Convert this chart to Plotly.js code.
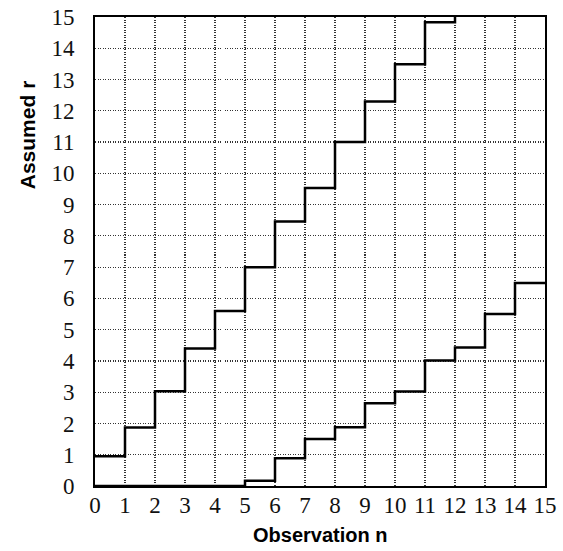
<!DOCTYPE html>
<html>
<head>
<meta charset="utf-8">
<script src="https://cdn.plot.ly/plotly-3.0.1.min.js"></script>
<style>html,body{margin:0;padding:0;background:#fff;}#chart{width:563px;height:551px;}</style>
</head>
<body>
<div id="chart"></div>
<script>
// Upper step curve: value of r on each interval [n, n+1)
const upperN = [0, 1, 2, 3, 4, 5, 6, 7, 8, 9, 10, 11, 12];
const upperR = [0.95, 1.87, 3.03, 4.4, 5.6, 7.0, 8.46, 9.53, 11.0, 12.3, 13.49, 14.83, 15];
// Lower step curve
const lowerN = [0, 5, 6, 7, 8, 9, 10, 11, 12, 13, 14, 15];
const lowerR = [0, 0.17, 0.89, 1.5, 1.88, 2.65, 3.02, 4.01, 4.43, 5.5, 6.49, 6.49];
const tickVals = [0,1,2,3,4,5,6,7,8,9,10,11,12,13,14,15];
const tickText = tickVals.map(String);

const traces = [
  {x: upperN, y: upperR, mode: 'lines', line: {shape: 'hv', color: '#000', width: 2.5}, hoverinfo: 'skip'},
  {x: lowerN, y: lowerR, mode: 'lines', line: {shape: 'hv', color: '#000', width: 2.5}, hoverinfo: 'skip'}
];

function makeAxis(standoff) {
  return {
    range: [0, 15],
    tickmode: 'array', tickvals: tickVals, ticktext: tickText,
    showgrid: true, gridcolor: '#333', griddash: '1px,1.5px', gridwidth: 1.2,
    showline: true, linecolor: '#000', linewidth: 2, mirror: true,
    ticks: '', zeroline: false, ticklabelstandoff: standoff,
    tickfont: {family: 'Liberation Serif', size: 23, color: '#111'}
  };
}

const layout = {
  width: 563, height: 551,
  margin: {l: 95, r: 18, t: 17, b: 65},
  paper_bgcolor: '#fff', plot_bgcolor: '#fff',
  font: {family: 'Liberation Serif', size: 23, color: '#111'},
  showlegend: false,
  xaxis: makeAxis(-3),
  yaxis: makeAxis(14),
  annotations: [
    {text: '<b>Observation n</b>', xref: 'paper', yref: 'paper', x: 0.5, y: -0.1045,
     xanchor: 'center', yanchor: 'middle', showarrow: false,
     font: {family: 'Liberation Sans', size: 20, color: '#000'}},
    {text: '<b>Assumed r</b>', xref: 'paper', yref: 'paper', x: -0.151, y: 0.748,
     xanchor: 'center', yanchor: 'middle', showarrow: false, textangle: -90,
     font: {family: 'Liberation Sans', size: 21, color: '#000'}}
  ]
};

Plotly.newPlot('chart', traces, layout, {displayModeBar: false, staticPlot: true});
</script>
</body>
</html>
